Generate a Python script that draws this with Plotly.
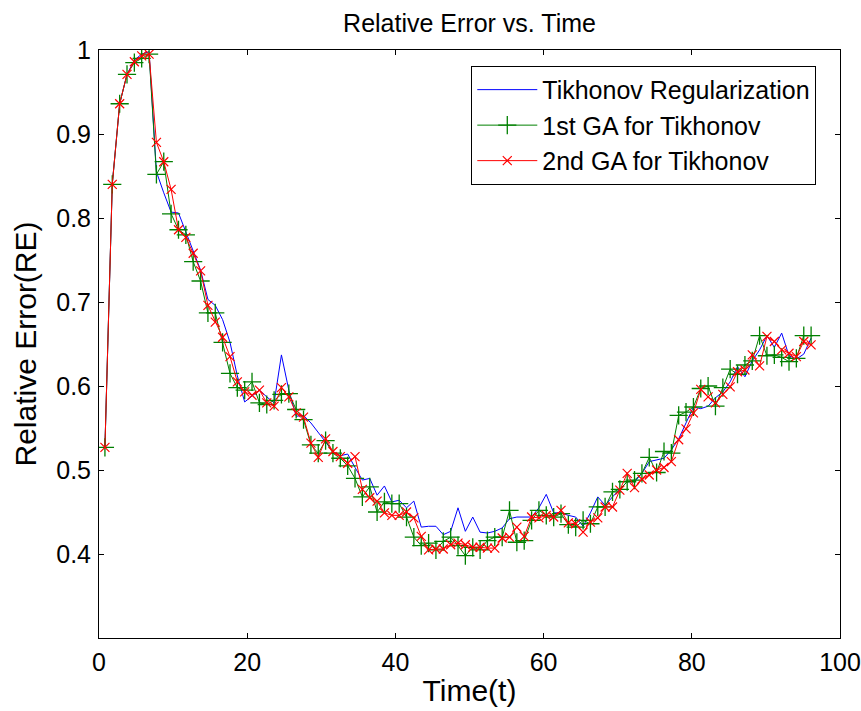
import numpy as np
import plotly.graph_objects as go

# sample times (first sample ~0.8, last ~96.1, 97 samples)
t = [round(v, 2) for v in np.linspace(0.8, 96.1, 97)]

tikhonov = [0.527, 0.84, 0.936, 0.971, 0.988, 0.995, 0.998, 0.855, 0.83, 0.807,
            0.806, 0.783, 0.759, 0.738, 0.703, 0.696, 0.679, 0.652, 0.612, 0.581,
            0.588, 0.595, 0.587, 0.58, 0.637, 0.595, 0.564, 0.565, 0.556, 0.545,
            0.533, 0.522, 0.517, 0.519, 0.503, 0.488, 0.49, 0.47, 0.481, 0.462,
            0.464, 0.455, 0.463, 0.432, 0.433, 0.433, 0.423, 0.427, 0.455, 0.427,
            0.444, 0.426, 0.425, 0.427, 0.431, 0.442, 0.444, 0.444, 0.444, 0.455,
            0.471, 0.449, 0.449, 0.446, 0.444, 0.433, 0.449, 0.468, 0.458, 0.468,
            0.477, 0.486, 0.486, 0.496, 0.51, 0.512, 0.514, 0.524, 0.537, 0.556,
            0.575, 0.573, 0.576, 0.586, 0.593, 0.605, 0.623, 0.611, 0.63, 0.643,
            0.66, 0.646, 0.663, 0.636, 0.632, 0.638, 0.657]

ga1 = [0.527, 0.84, 0.936, 0.971, 0.985, 0.99, 0.995, 0.852, 0.867, 0.805,
       0.786, 0.78, 0.748, 0.725, 0.687, 0.687, 0.652, 0.615, 0.598, 0.595,
       0.605, 0.58, 0.578, 0.583, 0.59, 0.591, 0.572, 0.56, 0.53, 0.52,
       0.535, 0.52, 0.514, 0.505, 0.49, 0.468, 0.48, 0.45, 0.462, 0.46,
       0.46, 0.444, 0.42, 0.41, 0.413, 0.405, 0.415, 0.42, 0.41, 0.398,
       0.408, 0.405, 0.416, 0.42, 0.42, 0.452, 0.414, 0.416, 0.44, 0.452,
       0.446, 0.444, 0.448, 0.435, 0.432, 0.44, 0.436, 0.456, 0.456, 0.474,
       0.477, 0.486, 0.488, 0.496, 0.515, 0.497, 0.522, 0.52, 0.565, 0.569,
       0.575, 0.597, 0.6, 0.576, 0.598, 0.62, 0.614, 0.625, 0.63, 0.66,
       0.636, 0.637, 0.634, 0.629, 0.633, 0.66, 0.66]

ga2 = [0.527, 0.84, 0.936, 0.971, 0.986, 0.993, 0.995, 0.89, 0.867, 0.834,
       0.786, 0.777, 0.758, 0.737, 0.696, 0.676, 0.658, 0.635, 0.605, 0.593,
       0.589, 0.595, 0.58, 0.576, 0.598, 0.587, 0.568, 0.563, 0.532, 0.515,
       0.537, 0.522, 0.516, 0.508, 0.516, 0.477, 0.467, 0.463, 0.449, 0.446,
       0.446, 0.45, 0.443, 0.421, 0.405, 0.406, 0.406, 0.411, 0.413, 0.411,
       0.408, 0.408, 0.407, 0.407, 0.419, 0.42, 0.432, 0.421, 0.444, 0.443,
       0.446, 0.444, 0.452, 0.437, 0.436, 0.426, 0.438, 0.443, 0.456, 0.456,
       0.476, 0.496, 0.479, 0.489, 0.494, 0.5, 0.503, 0.51, 0.536, 0.549,
       0.568, 0.596, 0.587, 0.58, 0.59, 0.599, 0.617, 0.619, 0.637, 0.624,
       0.659, 0.653, 0.643, 0.639, 0.635, 0.653, 0.649]

x_ticks = [0, 20, 40, 60, 80, 100]
y_ticks = [0.4, 0.5, 0.6, 0.7, 0.8, 0.9, 1.0]
y_tick_text = ["0.4", "0.5", "0.6", "0.7", "0.8", "0.9", "1"]

FONT = "Liberation Sans, Arial, sans-serif"

fig = go.Figure()
fig.add_trace(go.Scatter(x=t, y=tikhonov, mode="lines", name="Tikhonov Regularization",
                         line=dict(color="#0000FF", width=1)))
fig.add_trace(go.Scatter(x=t, y=ga1, mode="lines+markers", name="1st GA for Tikhonov",
                         line=dict(color="#008000", width=1),
                         marker=dict(symbol="cross-thin-open", size=13,
                                     line=dict(color="#008000", width=1.3))))
fig.add_trace(go.Scatter(x=t, y=ga2, mode="lines+markers", name="2nd GA for Tikhonov",
                         line=dict(color="#FF0000", width=1),
                         marker=dict(symbol="x-thin-open", size=9,
                                     line=dict(color="#FF0000", width=1.2))))

fig.update_layout(
    width=861, height=711,
    margin=dict(l=99, r=21, t=50, b=73),
    paper_bgcolor="white", plot_bgcolor="white",
    font=dict(family=FONT, size=25, color="black"),
    title=dict(text="Relative Error vs. Time", x=0.5, xref="paper",
               y=1 - 23 / 711, yref="container", yanchor="middle",
               font=dict(size=25, color="black")),
    showlegend=True,
    legend=dict(x=0.968, xanchor="right", y=0.973, yanchor="top",
                bgcolor="white", bordercolor="black", borderwidth=1,
                font=dict(size=25), tracegroupgap=0, itemwidth=60),
)
fig.update_xaxes(range=[0, 100], tickvals=x_ticks, ticks="inside", ticklen=5,
                 tickcolor="black", showline=True, linecolor="black", linewidth=1,
                 mirror="allticks", showgrid=False, zeroline=False, automargin=False,
                 title=dict(text="Time(t)", standoff=4), ticklabelstandoff=2)
fig.update_yaxes(range=[0.3, 1.0], tickvals=y_ticks, ticktext=y_tick_text,
                 ticks="inside", ticklen=5,
                 tickcolor="black", showline=True, linecolor="black", linewidth=1,
                 mirror="allticks", showgrid=False, zeroline=False, automargin=False,
                 title=dict(text="Relative Error(RE)", standoff=10), ticklabelstandoff=2)

fig.write_html("out.html")
